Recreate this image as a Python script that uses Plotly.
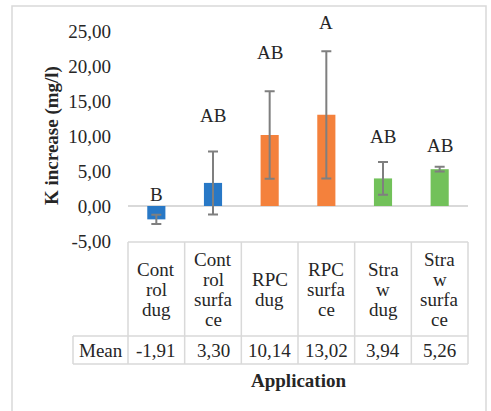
import plotly.graph_objects as go

# ---- data ----
categories = ["Control dug", "Control surface", "RPC dug", "RPC surface", "Straw dug", "Straw surface"]
table_labels = [["Cont", "rol", "dug"], ["Cont", "rol", "surfa", "ce"], ["RPC", "dug"],
                ["RPC", "surfa", "ce"], ["Stra", "w", "dug"], ["Stra", "w", "surfa", "ce"]]
means = [-1.91, 3.30, 10.14, 13.02, 3.94, 5.26]
errors = [0.67, 4.5, 6.25, 9.1, 2.35, 0.34]
letters = ["B", "AB", "AB", "A", "AB", "AB"]
letter_y = [1.6, 13.0, 22.0, 26.2, 10.0, 8.6]
colors = ["#2878C6", "#2878C6", "#F4813C", "#F4813C", "#72C15A", "#72C15A"]
y_ticks = [-5, 0, 5, 10, 15, 20, 25]
y_range = [-5, 25]

# ---- layout constants (pixels) ----
W, H = 491, 411
L, R, T, B = 128, 468, 31, 241
FONT = "Liberation Serif, Times New Roman, serif"
TXT = "#262626"
GRID = "#D9D9D9"
FS = 19

def px2x(p):
    return (p - L) / (R - L)

def px2y(p):
    return (B - p) / (B - T)

def fmt(v):
    return f"{v:.2f}".replace(".", ",")

fig = go.Figure()
fig.add_trace(go.Bar(
    x=list(range(len(categories))), y=means, width=0.32,
    marker=dict(color=colors, line=dict(width=0)),
    error_y=dict(type="data", array=errors, visible=True, color="#7F7F7F", thickness=2, width=5),
    showlegend=False,
))

shapes = []
def line(x0, y0, x1, y1):
    shapes.append(dict(type="line", xref="paper", yref="paper",
                       x0=px2x(x0), y0=px2y(y0), x1=px2x(x1), y1=px2y(y1),
                       line=dict(color=GRID, width=1.5)))

# outer chart border
shapes.append(dict(type="rect", xref="paper", yref="paper",
                   x0=px2x(12), y0=px2y(6), x1=px2x(486), y1=px2y(420),
                   line=dict(color=GRID, width=1.5), fillcolor="rgba(0,0,0,0)"))

n = len(categories)
cw = (R - L) / n
tab_top, row_mid, tab_bot, mean_left = 242, 336, 364, 73
line(L, tab_top, R, tab_top)
line(mean_left, row_mid, R, row_mid)
line(mean_left, tab_bot, R, tab_bot)
for k in range(n + 1):
    line(L + k * cw, tab_top, L + k * cw, tab_bot)
line(mean_left, row_mid, mean_left, tab_bot)

annotations = []
def text(xp, yp, s, bold=False, angle=0, size=FS):
    annotations.append(dict(xref="paper", yref="paper", x=px2x(xp), y=px2y(yp),
                            text=f"<b>{s}</b>" if bold else s, showarrow=False,
                            xanchor="center", yanchor="middle", textangle=angle,
                            font=dict(family=FONT, size=size, color=TXT)))

cell_c = (tab_top + row_mid) / 2
for i, lines in enumerate(table_labels):
    cx = L + (i + 0.5) * cw
    m = len(lines)
    for j, s in enumerate(lines):
        text(cx, cell_c + (j - (m - 1) / 2) * 20, s)
    text(cx, (row_mid + tab_bot) / 2, fmt(means[i]))
text((mean_left + L) / 2, (row_mid + tab_bot) / 2, "Mean")
text((L + R) / 2, 380, "Application", bold=True)
text(52, (T + B) / 2, "K increase (mg/l)", bold=True, angle=-90)

# significance letters (paper coords derived from data values so they are not clipped)
for i, (lt, ly) in enumerate(zip(letters, letter_y)):
    annotations.append(dict(xref="paper", yref="paper", x=(i + 0.5) / n,
                            y=(ly - y_range[0]) / (y_range[1] - y_range[0]),
                            text=lt, showarrow=False, xanchor="center", yanchor="middle",
                            font=dict(family=FONT, size=FS, color=TXT)))

fig.update_layout(
    width=W, height=H,
    margin=dict(l=L, r=W - R, t=T, b=H - B, pad=0),
    paper_bgcolor="white", plot_bgcolor="white",
    font=dict(family=FONT, size=FS, color=TXT),
    shapes=shapes, annotations=annotations, showlegend=False,
    xaxis=dict(range=[-0.5, n - 0.5], showticklabels=False, showgrid=False,
               zeroline=False, showline=False, ticks=""),
    yaxis=dict(range=y_range, tickvals=y_ticks, ticktext=[fmt(v) for v in y_ticks],
               showgrid=False, zeroline=True, zerolinecolor=GRID, zerolinewidth=1.5,
               showline=False, ticks="", ticklabelstandoff=16,
               tickfont=dict(family=FONT, size=FS, color=TXT)),
)
fig.write_html("out.html")
